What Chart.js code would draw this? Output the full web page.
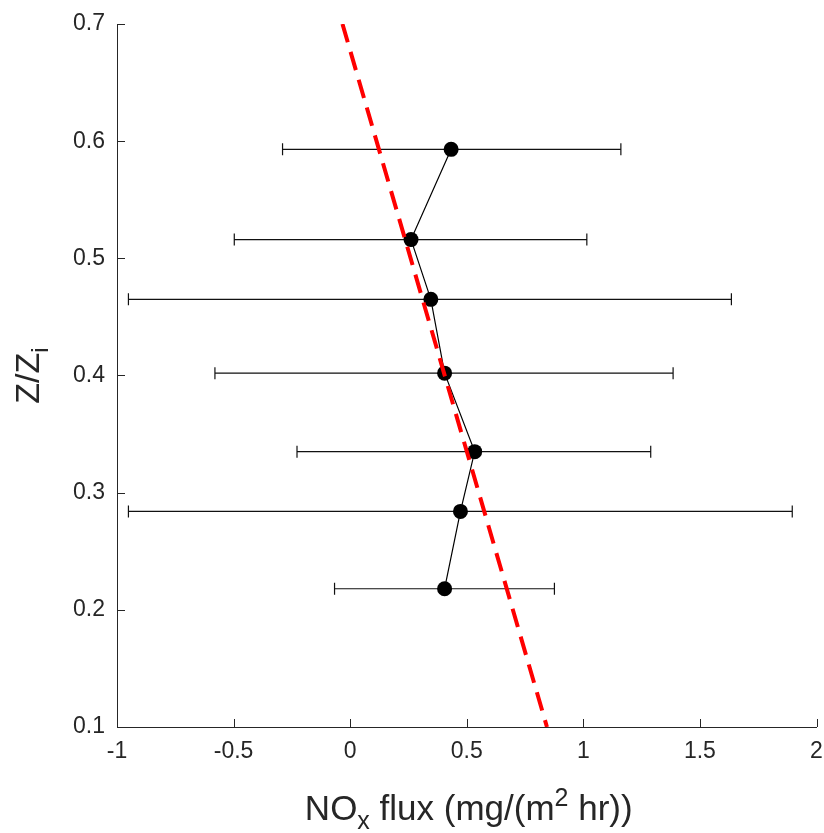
<!DOCTYPE html>
<html lang="en">
<head>
    <meta charset="UTF-8">
    <title>NOx flux profile</title>
    <script src="https://cdn.jsdelivr.net/npm/chart.js"></script>
    <style>
        body {
            margin: 0;
            padding: 0;
            background: white;
        }
        #wrap {
            width: 824px;
            height: 833px;
        }
    </style>
</head>
<body>
    <div id="wrap">
        <canvas id="chart" width="824" height="833"></canvas>
    </div>

    <script>
        // Data
        const zRatio   = [0.593, 0.516, 0.465, 0.402, 0.335, 0.284, 0.218];
        const fluxMean = [0.433, 0.261, 0.346, 0.405, 0.534, 0.473, 0.405];
        const fluxLow  = [-0.290, -0.497, -0.951, -0.580, -0.228, -0.951, -0.067];
        const fluxHigh = [1.161, 1.015, 1.635, 1.385, 1.289, 1.896, 0.876];

        // Red dashed fit line (end points)
        const fitX = [-0.033, 0.844];
        const fitY = [0.7, 0.1];

        const xTicks = [-1, -0.5, 0, 0.5, 1, 1.5, 2];
        const yTicks = [0.1, 0.2, 0.3, 0.4, 0.5, 0.6, 0.7];

        const INK = '#262626';
        const FONT = "'Liberation Sans', Arial, Helvetica, sans-serif";

        // horizontal error bars, under the markers
        const errorBars = {
            id: 'errorBars',
            beforeDatasetsDraw(chart) {
                const ctx = chart.ctx;
                const xs = chart.scales.x, ys = chart.scales.y;
                ctx.save();
                ctx.strokeStyle = '#111';
                ctx.lineWidth = 1.2;
                zRatio.forEach((z, i) => {
                    const py = ys.getPixelForValue(z);
                    const x1 = xs.getPixelForValue(fluxLow[i]);
                    const x2 = xs.getPixelForValue(fluxHigh[i]);
                    ctx.beginPath();
                    ctx.moveTo(x1, py); ctx.lineTo(x2, py);
                    ctx.moveTo(x1, py - 6); ctx.lineTo(x1, py + 6);
                    ctx.moveTo(x2, py - 6); ctx.lineTo(x2, py + 6);
                    ctx.stroke();
                });
                ctx.restore();
            }
        };

        // tick marks pointing into the plot, MATLAB style
        const innerTicks = {
            id: 'innerTicks',
            afterDatasetsDraw(chart) {
                const ctx = chart.ctx;
                const a = chart.chartArea;
                ctx.save();
                ctx.strokeStyle = INK;
                ctx.lineWidth = 1;
                ctx.beginPath();
                xTicks.forEach(v => {
                    const px = Math.round(chart.scales.x.getPixelForValue(v)) + 0.5;
                    ctx.moveTo(px, a.bottom); ctx.lineTo(px, a.bottom - 8);
                });
                yTicks.forEach(v => {
                    const py = Math.round(chart.scales.y.getPixelForValue(v)) + 0.5;
                    ctx.moveTo(a.left, py); ctx.lineTo(a.left + 8, py);
                });
                ctx.stroke();
                ctx.restore();
            }
        };

        // draw a run of text pieces (with sub/superscripts) centred at 0,0
        function drawRuns(ctx, runs) {
            let total = 0;
            runs.forEach(r => {
                ctx.font = r.size + 'px ' + FONT;
                r.w = ctx.measureText(r.text).width;
                total += r.w;
            });
            let x = -total / 2;
            runs.forEach(r => {
                ctx.font = r.size + 'px ' + FONT;
                ctx.fillText(r.text, x, r.dy);
                x += r.w;
            });
        }

        const axisTitles = {
            id: 'axisTitles',
            afterDraw(chart) {
                const ctx = chart.ctx;
                const a = chart.chartArea;
                ctx.save();
                ctx.fillStyle = INK;
                ctx.textBaseline = 'alphabetic';
                ctx.textAlign = 'left';

                // x title
                ctx.save();
                ctx.translate((a.left + a.right) / 2 + 2, 820);
                drawRuns(ctx, [
                    { text: 'NO', size: 35, dy: 0 },
                    { text: 'x', size: 25, dy: 9 },
                    { text: ' flux (mg/(m', size: 35, dy: 0 },
                    { text: '2', size: 25, dy: -14 },
                    { text: ' hr))', size: 35, dy: 0 }
                ]);
                ctx.restore();

                // y title
                ctx.save();
                ctx.translate(39, (a.top + a.bottom) / 2);
                ctx.rotate(-Math.PI / 2);
                drawRuns(ctx, [
                    { text: 'Z/Z', size: 34, dy: 0 },
                    { text: 'i', size: 24, dy: 9 }
                ]);
                ctx.restore();

                ctx.restore();
            }
        };

        const ctx = document.getElementById('chart').getContext('2d');

        const chart = new Chart(ctx, {
            type: 'scatter',
            data: {
                datasets: [
                    {
                        label: 'fit',
                        data: fitX.map((x, i) => ({ x: x, y: fitY[i] })),
                        showLine: true,
                        borderColor: '#ff0000',
                        borderWidth: 4,
                        borderDash: [19, 10],
                        pointRadius: 0
                    },
                    {
                        label: 'NOx flux',
                        data: fluxMean.map((x, i) => ({ x: x, y: zRatio[i] })),
                        showLine: true,
                        borderColor: '#000',
                        borderWidth: 1.2,
                        pointRadius: 7.5,
                        pointBackgroundColor: '#000',
                        pointBorderColor: '#000',
                        pointBorderWidth: 0
                    }
                ]
            },
            options: {
                responsive: false,
                animation: false,
                devicePixelRatio: 1,
                layout: {
                    padding: { left: 0, top: 24, right: 6, bottom: 0 }
                },
                plugins: {
                    legend: { display: false },
                    tooltip: { enabled: false }
                },
                scales: {
                    x: {
                        type: 'linear',
                        min: -1,
                        max: 2,
                        afterBuildTicks: s => { s.ticks = xTicks.map(v => ({ value: v })); },
                        afterFit: s => {
                            s.height = 106;
                            s.paddingLeft = 0;
                            s.paddingRight = 0;
                        },
                        grid: { display: true, drawOnChartArea: false, drawTicks: false },
                        border: { display: true, color: INK, width: 1 },
                        ticks: {
                            color: INK,
                            padding: 11,
                            maxRotation: 0,
                            font: { size: 23, family: FONT },
                            callback: v => String(v)
                        }
                    },
                    y: {
                        type: 'linear',
                        min: 0.1,
                        max: 0.7,
                        afterBuildTicks: s => { s.ticks = yTicks.map(v => ({ value: v })); },
                        afterFit: s => {
                            s.width = 117;
                            s.paddingTop = 0;
                            s.paddingBottom = 0;
                        },
                        grid: { display: true, drawOnChartArea: false, drawTicks: false },
                        border: { display: true, color: INK, width: 1 },
                        ticks: {
                            color: INK,
                            padding: 12,
                            font: { size: 23, family: FONT },
                            callback: v => v.toFixed(1)
                        }
                    }
                }
            },
            plugins: [errorBars, innerTicks, axisTitles]
        });
    </script>
</body>
</html>
